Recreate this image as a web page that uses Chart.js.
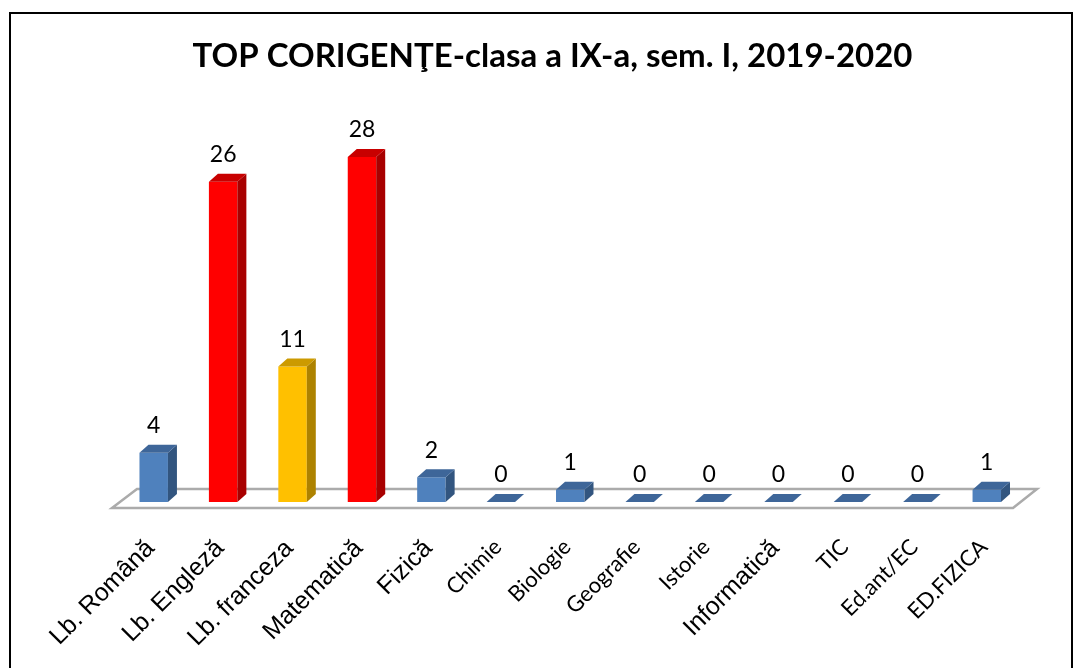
<!DOCTYPE html>
<html>
<head>
<meta charset="utf-8">
<script src="https://cdn.jsdelivr.net/npm/chart.js@4.4.1/dist/chart.umd.min.js"></script>
<style>
  html, body { margin: 0; padding: 0; background: #fff; overflow: hidden; }
  #wrap { position: absolute; left: 0; top: 0; width: 1079px; height: 668px; }
  #frame { position: absolute; left: 9px; top: 12px; width: 1064px; height: 700px; border: 2px solid #000; box-sizing: border-box; pointer-events: none; }
</style>
</head>
<body>
<div id="wrap"><canvas id="c"></canvas></div>
<div id="frame"></div>
<script>
const titleText = 'TOP CORIGENŢE-clasa a IX-a, sem. I, 2019-2020';
const categories = ['Lb. Română', 'Lb. Engleză', 'Lb. franceza', 'Matematică', 'Fizică', 'Chimie', 'Biologie', 'Geografie', 'Istorie', 'Informatică', 'TIC', 'Ed.ant/EC', 'ED.FIZICA'];
const values = [4, 26, 11, 28, 2, 0, 1, 0, 0, 0, 0, 0, 1];
const colorKeys = ['blue', 'red', 'yellow', 'red', 'blue', 'blue', 'blue', 'blue', 'blue', 'blue', 'blue', 'blue', 'blue'];

const palette = {
  blue:   { front: '#4F81BD', side: '#32557F', top: '#3E6699' },
  red:    { front: '#FF0000', side: '#A80000', top: '#C80000' },
  yellow: { front: '#FFC000', side: '#AD8200', top: '#CC9A00' }
};
const arialIdx = [0, 1, 2, 3, 4, 9];

const DX = 9, DY = 8;

const bar3d = {
  id: 'bar3d',
  beforeDatasetsDraw(chart) {
    const ctx = chart.ctx;
    const a = chart.chartArea;
    const base = chart.scales.y.getPixelForValue(0);
    ctx.save();
    ctx.beginPath();
    ctx.moveTo(a.left - 7, base + 6);
    ctx.lineTo(a.right - 8.5, base + 6);
    ctx.lineTo(a.right + 15.5, base - 13);
    ctx.lineTo(a.left + 18, base - 13);
    ctx.closePath();
    ctx.fillStyle = '#fff';
    ctx.fill();
    ctx.lineWidth = 2.5;
    ctx.strokeStyle = '#ABABAB';
    ctx.stroke();
    ctx.restore();
  },
  afterDatasetsDraw(chart) {
    const ctx = chart.ctx;
    const meta = chart.getDatasetMeta(0);
    ctx.save();
    meta.data.forEach((el, i) => {
      const p = el.getProps(['x', 'y', 'width', 'base'], true);
      const l = p.x - p.width / 2, r = p.x + p.width / 2;
      const col = palette[colorKeys[i]];
      ctx.beginPath();
      ctx.moveTo(r, p.y);
      ctx.lineTo(r + DX, p.y - DY);
      ctx.lineTo(r + DX, p.base - DY);
      ctx.lineTo(r, p.base);
      ctx.closePath();
      ctx.fillStyle = col.side;
      ctx.fill();
      ctx.beginPath();
      ctx.moveTo(l, p.y);
      ctx.lineTo(l + DX, p.y - DY);
      ctx.lineTo(r + DX, p.y - DY);
      ctx.lineTo(r, p.y);
      ctx.closePath();
      ctx.fillStyle = col.top;
      ctx.fill();
      ctx.fillStyle = '#000';
      ctx.font = '23px Lato';
      ctx.textAlign = 'center';
      ctx.textBaseline = 'middle';
      ctx.fillText(String(values[i]), p.x, p.y - 27);
    });
    ctx.restore();
  }
};

const hiddenAxis = (w, pos) => ({
  type: 'linear',
  position: pos,
  display: true,
  min: 0,
  max: 30,
  ticks: { display: false },
  grid: { display: false },
  border: { display: false },
  afterFit(s) { s.width = w; }
});

new Chart(document.getElementById('c'), {
  type: 'bar',
  data: {
    labels: categories,
    datasets: [{
      data: values,
      yAxisID: 'y',
      backgroundColor: colorKeys.map(k => palette[k].front),
      borderWidth: 0,
      categoryPercentage: 1,
      barPercentage: 0.41
    }]
  },
  options: {
    responsive: true,
    maintainAspectRatio: false,
    animation: false,
    layout: { padding: { left: 26, right: 0, top: 0, bottom: 0 } },
    plugins: {
      legend: { display: false },
      tooltip: { enabled: false },
      title: {
        display: true,
        text: titleText,
        color: '#000',
        font: { family: 'Lato', size: 33, weight: 'bold', lineHeight: 1.2 },
        padding: { top: 37, bottom: 55.8 }
      }
    },
    scales: {
      y: hiddenAxis(93, 'left'),
      yR: hiddenAxis(57.5, 'right'),
      x: {
        grid: { display: false },
        border: { display: false },
        afterFit(scale) { scale.height = 166; },
        ticks: {
          autoSkip: false,
          minRotation: 45,
          maxRotation: 45,
          padding: 24,
          labelOffset: -3,
          color: '#000',
          font: (c) => arialIdx.includes(c.index)
            ? { family: 'Liberation Sans', size: 25 }
            : { family: 'Lato', size: 22 }
        }
      }
    }
  },
  plugins: [bar3d]
});
</script>
</body>
</html>
